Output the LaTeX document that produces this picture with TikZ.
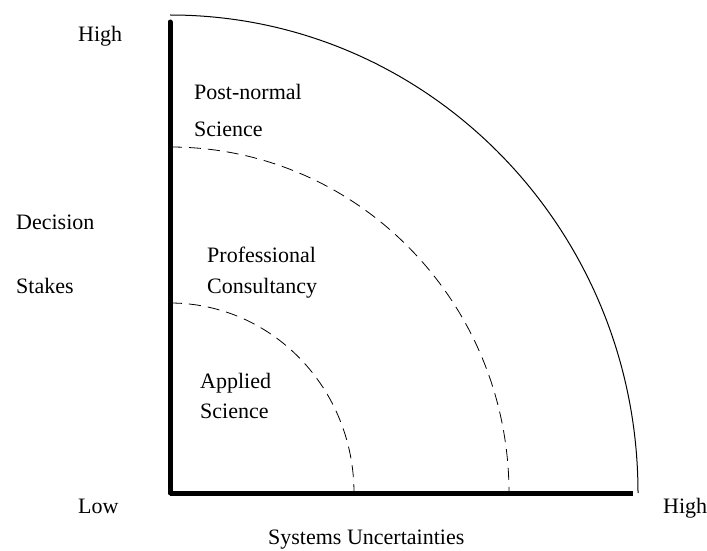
\documentclass[tikz,border=0pt]{standalone}
\usepackage{fontspec}
\setmainfont{Liberation Serif}
\usetikzlibrary{calc}

\begin{document}
\begin{tikzpicture}[x=1pt,y=1pt, every node/.style={anchor=base west, inner sep=0, font=\fontsize{22}{26}\selectfont}]
\useasboundingbox (0,0) rectangle (707,550);
\coordinate (O) at (170,57);
% outer boundary and the two dashed zones
\draw[line width=1pt] ($(O)+(0,478)$) arc[start angle=90, end angle=0, x radius=468, y radius=478];
\foreach \rx/\ry in {184/190, 339/346} {
 \draw[line width=.8pt, dash pattern=on 12pt off 7pt] ($(O)+(0,\ry)$) arc[start angle=90, end angle=0, x radius=\rx, y radius=\ry];
}
% axes
\draw[line width=5pt, line cap=round] (170,528)--(O);
\draw[line width=5pt] (O)--(633,57);
% labels
\node (yhigh) at (78,508) {High};
\node (ylow) at (78,37) {Low};
\node (xhigh) at (663,37) {High};
\node (ylab1) at (16,320) {Decision};
\node (ylab2) at (16,257) {Stakes};
\node (xlab) at (268,6) {Systems Uncertainties};
\node (pns1) at (194,450) {Post-normal};
\node (pns2) at (194,413) {Science};
\node (pc1) at (207,288) {Professional};
\node (pc2) at (207,257) {Consultancy};
\node (as1) at (200,162) {Applied};
\node (as2) at (200,132) {Science};
\end{tikzpicture}
\end{document}
